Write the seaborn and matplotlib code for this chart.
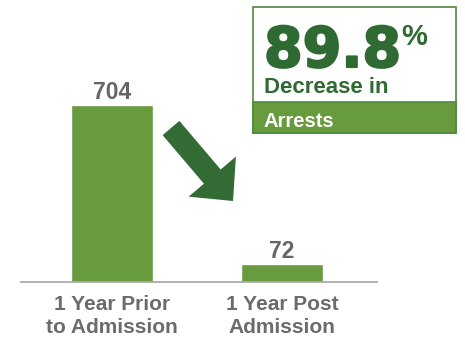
import matplotlib
matplotlib.use("Agg")
import matplotlib.pyplot as plt
from matplotlib.patches import Rectangle, FancyArrow
import matplotlib.patheffects as pe
import seaborn as sns
import pandas as pd

# Arrest counts before and after admission
periods = ["1 Year Prior\nto Admission", "1 Year Post\nAdmission"]
arrests = [704, 72]
pct_decrease = "89.8"

BAR_GREEN = "#689a3e"
DARK_GREEN = "#2f6a32"
GREY = "#6b6b6d"

sns.set_theme(style="white")
plt.rcParams["font.family"] = ["Liberation Sans", "DejaVu Sans"]

W, H = 465, 339
fig = plt.figure(figsize=(W / 100, H / 100), dpi=100)

# main bar axes: baseline at y=282px, spanning x=21..377px
ax_left, ax_right = 21, 377
ax_bottom_px, ax_top_px = 282, 10
ax = fig.add_axes([ax_left / W, (H - ax_bottom_px) / H,
                   (ax_right - ax_left) / W, (ax_bottom_px - ax_top_px) / H])

df = pd.DataFrame({"period": periods, "arrests": arrests})
sns.barplot(data=df, x="period", y="arrests", color=BAR_GREEN, saturation=1,
            width=0.482, ax=ax)

ax.set_xlim(-0.535, 1.559)
ax.set_ylim(0, 704 * (ax_bottom_px - ax_top_px) / 177)
ax.set_xlabel("")
ax.set_ylabel("")
ax.set_yticks([])
for s in ["left", "right", "top"]:
    ax.spines[s].set_visible(False)
ax.spines["bottom"].set_color("#aaaaaa")
ax.spines["bottom"].set_linewidth(1.3)
ax.tick_params(axis="x", length=0, pad=9)
for lbl in ax.get_xticklabels():
    lbl.set_fontsize(15)
    lbl.set_fontweight("bold")
    lbl.set_color(GREY)
    lbl.set_linespacing(1.3)

for cont in ax.containers:
    ax.bar_label(cont, labels=[str(v) for v in arrests], padding=1,
                 fontsize=16.5, fontweight="bold", color="#666666")

# overlay in pixel coordinates for the callout box and arrow
ov = fig.add_axes([0, 0, 1, 1], zorder=5)
ov.set_xlim(0, W)
ov.set_ylim(H, 0)
ov.axis("off")
ov.patch.set_alpha(0)

ov.add_patch(FancyArrow(171, 128, 62, 73, width=22, head_width=62,
                        head_length=32, length_includes_head=True,
                        color="#336b34", lw=0))

ov.add_patch(Rectangle((253, 7), 203, 126, facecolor="white",
                       edgecolor="#4f8a3c", lw=1.2))
ov.add_patch(Rectangle((253, 102), 203, 31, facecolor=BAR_GREEN,
                       edgecolor="#4f8a3c", lw=1.2))

heavy = [pe.withStroke(linewidth=1.6, foreground=DARK_GREEN)]
ov.text(264, 67, pct_decrease, fontsize=40, fontweight="bold",
        color=DARK_GREEN, family="DejaVu Sans", va="baseline", ha="left",
        path_effects=heavy)
ov.text(401, 45, "%", fontsize=21, fontweight="bold", color=DARK_GREEN,
        va="baseline", ha="left")
ov.text(264, 93, "Decrease in", fontsize=16, fontweight="bold",
        color=DARK_GREEN, va="baseline", ha="left")
ov.text(263, 127, "Arrests", fontsize=14.5, fontweight="bold",
        color="white", va="baseline", ha="left")

fig.savefig("out.png", dpi=100)
